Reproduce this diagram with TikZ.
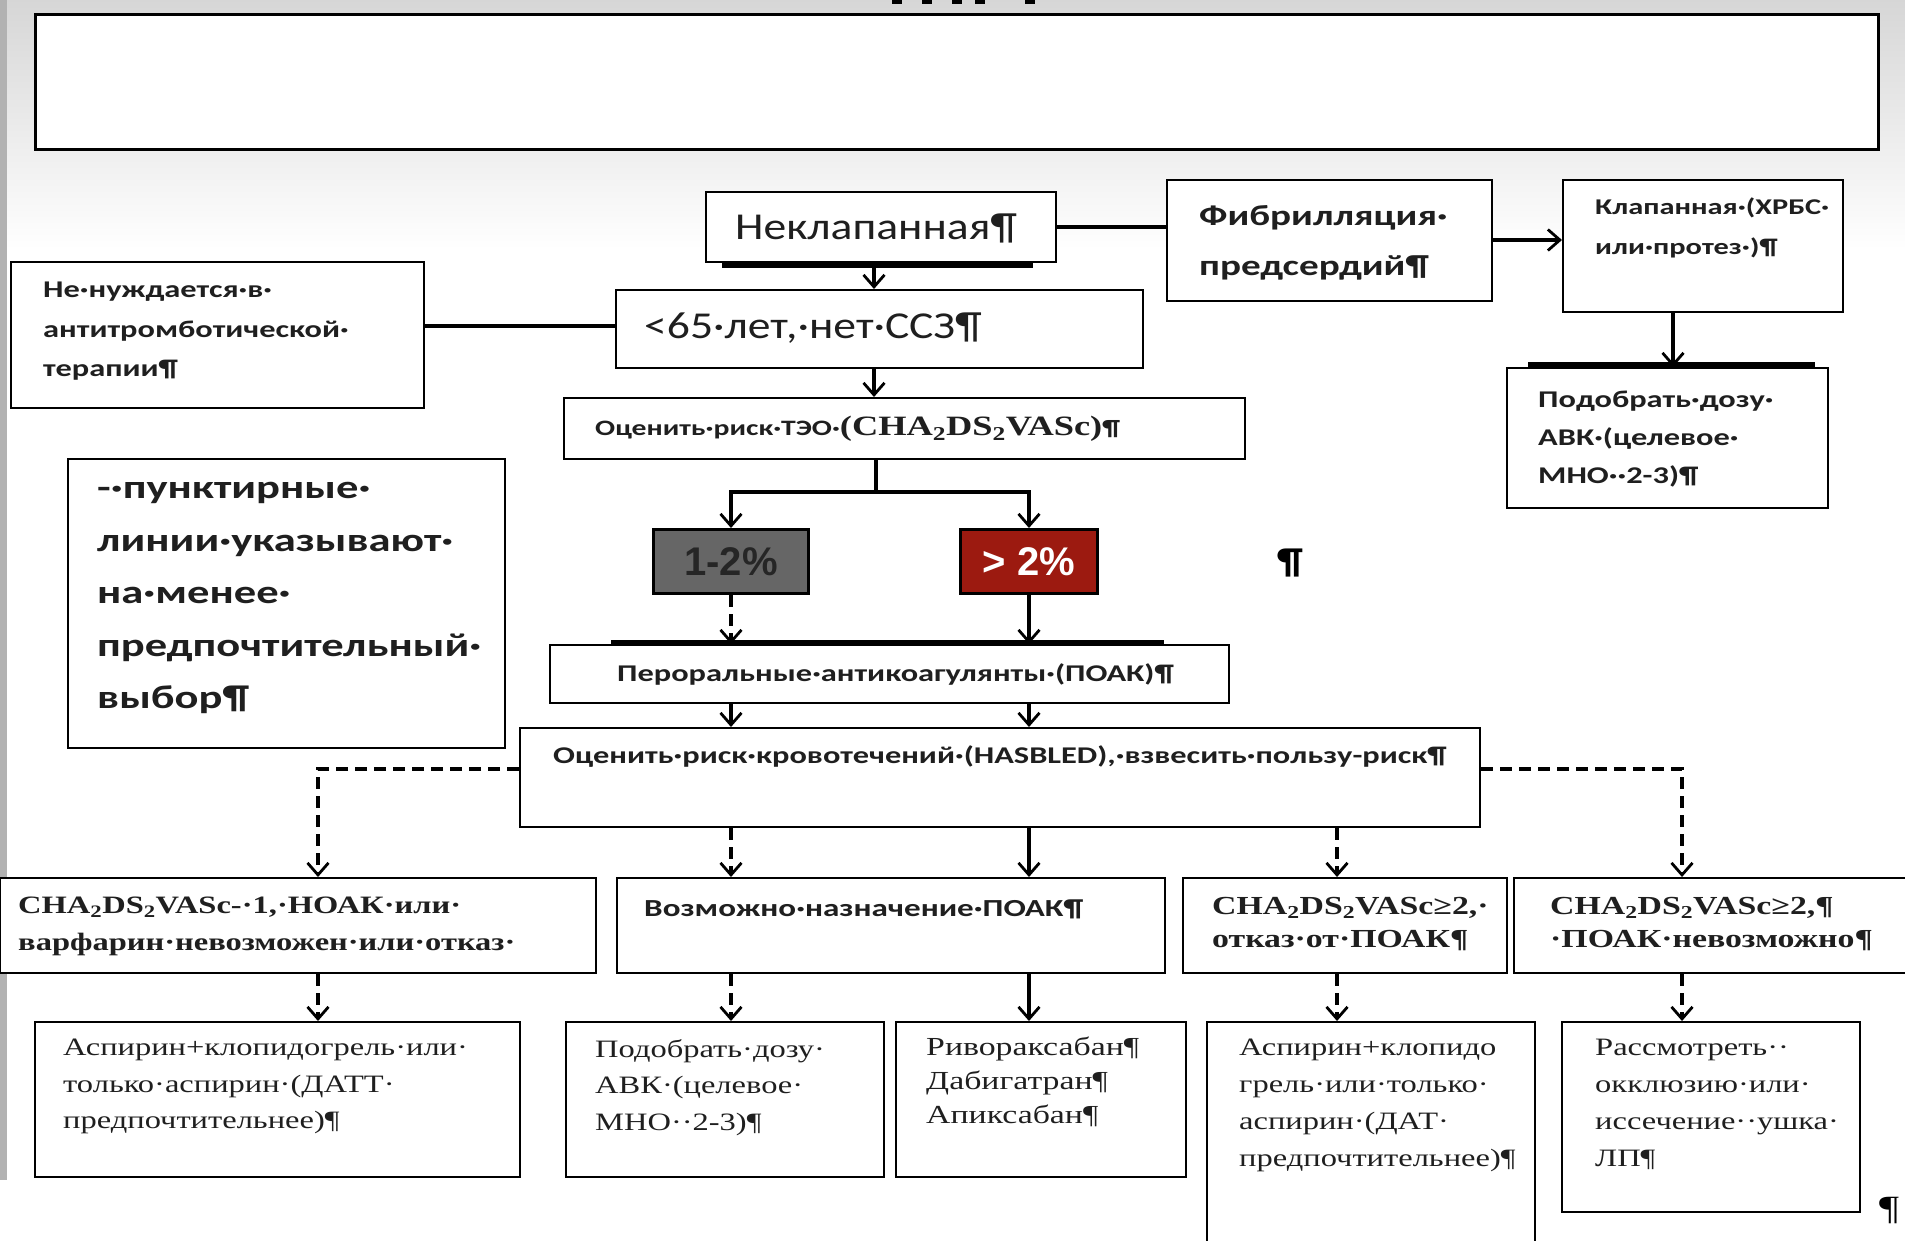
\documentclass[tikz,border=0pt]{standalone}
\usepackage{fontspec}
\newfontfamily\sfr[FakeStretch=1.2]{Carlito}
\newfontfamily\sfb[FakeStretch=1.35]{Carlito}
\newfontfamily\srb[FakeStretch=1.3]{Liberation Serif}
\newfontfamily\srr[FakeStretch=1.3]{Liberation Serif}
\newfontfamily\arl{Liberation Sans}
\usetikzlibrary{arrows.meta}
\newcommand{\myfs}[2]{\fontsize{#1}{#2}\selectfont}
\newcommand{\chads}{CHA\textsubscript{2}DS\textsubscript{2}VASc}
\definecolor{darkred}{HTML}{9C1A10}
\definecolor{midgray}{HTML}{666666}
\tikzset{
  box/.style={draw=black, line width=2.2pt, fill=white, inner sep=0pt, anchor=north west},
  txt/.style={inner sep=0pt, align=left, anchor=north west, text=black!88},
  ln/.style={line width=3.4pt},
  arr/.style={line width=3.4pt, -{Straight Barb[length=12pt,width=21pt,line width=2.8pt]}},
  dsh/.style={line width=4pt, dash pattern=on 12pt off 7pt},
  bar/.style={fill=black}
}
\begin{document}
\begin{tikzpicture}[x=1pt,y=-1pt]
\useasboundingbox (0,0) rectangle (1905,1240);
\clip (0,0) rectangle (1905,1240);
% background
\fill[white] (0,0) rectangle (1905,1240);
\shade[top color=black!16, bottom color=white] (0,0) rectangle (1905,250);
\fill[black!30] (0,0) rectangle (7,1180);
% cut-off title fragments
\fill[black] (892,0) rectangle (902,4);
\fill[black] (922,0) rectangle (932,4);
\fill[black] (952,0) rectangle (962,4);
\fill[black] (975,0) rectangle (985,4);
\fill[black] (1025,0) rectangle (1035,4);
% big empty box
\node[box, line width=3pt, minimum width=1843pt, minimum height=135pt] (big) at (34,13) {};

% boxes
\fill[bar] (722,259) rectangle (1033,268);
\node[box, minimum width=350pt, minimum height=70pt] (nekl) at (705,191) {};
\node[txt, anchor=base west, font={\sfr\myfs{38}{46}}] (neklt) at (735,239) {Неклапанная¶};

\node[box, minimum width=325pt, minimum height=121pt] (fib) at (1166,179) {};
\node[txt, font={\sfb\bfseries\myfs{29}{50}}] (fibt) at (1199,205) {Фибрилляция·\\предсердий¶};

\node[box, minimum width=280pt, minimum height=132pt] (klap) at (1562,179) {};
\node[txt, font={\sfb\bfseries\myfs{22.5}{40}}] (klapt) at (1595,198) {Клапанная·(ХРБС·\\или·протез·)¶};

\node[box, minimum width=413pt, minimum height=146pt] (nenuzh) at (10,261) {};
\node[txt, font={\sfb\bfseries\myfs{24}{39.5}}] (nenuzht) at (43,282) {Не·нуждается·в·\\антитромботической·\\терапии¶};

\node[box, minimum width=527pt, minimum height=78pt] (young) at (615,289) {};
\node[txt, anchor=west, font={\sfr\myfs{38}{44}}] (youngt) at (644,328) {<65·лет,·нет·ССЗ¶};

\fill[bar] (1528,362) rectangle (1815,369);
\node[box, minimum width=321pt, minimum height=140pt] (avk1) at (1506,367) {};
\node[txt, font={\sfb\bfseries\myfs{24}{38}}] (avk1t) at (1538,391) {Подобрать·дозу·\\АВК·(целевое·\\МНО··2-3)¶};

\node[box, minimum width=681pt, minimum height=61pt] (teo) at (563,397) {};
\node[txt, anchor=west] (teot) at (595,429) {{\sfb\bfseries\myfs{22}{26}Оценить·риск·ТЭО·}{\srb\bfseries\myfs{28}{30}(\chads)}{\sfb\bfseries\myfs{22}{26}¶}};

\node[box, minimum width=437pt, minimum height=289pt] (leg) at (67,458) {};
\node[txt, font={\sfb\bfseries\myfs{33}{52.5}}] (legt) at (97,482) {-·пунктирные·\\линии·указывают·\\на·менее·\\предпочтительный·\\выбор¶};

\node[box, fill=midgray, line width=3pt, minimum width=155pt, minimum height=64pt] (p12) at (652,528) {};
\node[inner sep=0pt, text=black!85, font={\arl\bfseries\myfs{40}{44}}] (p12t) at (p12.center) {1-2\%};
\node[box, fill=darkred, line width=3pt, minimum width=137pt, minimum height=64pt] (p2) at (959,528) {};
\node[inner sep=0pt, text=white, font={\arl\bfseries\myfs{40}{44}}] (p2t) at (p2.center) {> 2\%};

\node[inner sep=0pt, font={\sfr\bfseries\myfs{36}{40}}] (pil1) at (1290,563) {¶};

\fill[bar] (611,640) rectangle (1164,646);
\node[box, minimum width=679pt, minimum height=58pt] (poak) at (549,644) {};
\node[txt, anchor=west, font={\sfb\bfseries\myfs{24}{30}}] (poakt) at (617,674) {Пероральные·антикоагулянты·(ПОАК)¶};

\node[box, minimum width=960pt, minimum height=99pt] (has) at (519,727) {};
\node[txt, anchor=west, font={\sfb\bfseries\myfs{24}{30}}] (hast) at (553,757) {Оценить·риск·кровотечений·(HASBLED),·взвесить·пользу-риск¶};

\node[box, minimum width=596pt, minimum height=95pt] (r2a) at (-1,877) {};
\node[txt, font={\srb\bfseries\myfs{25}{37}}] (r2at) at (18,897) {\chads-·1,·НОАК·или·\\варфарин·невозможен·или·отказ·};

\node[box, minimum width=548pt, minimum height=95pt] (r2b) at (616,877) {};
\node[txt, anchor=west, font={\sfb\bfseries\myfs{24.5}{30}}] (r2bt) at (644,909) {Возможно·назначение·ПОАК¶};

\node[box, minimum width=324pt, minimum height=95pt] (r2c) at (1182,877) {};
\node[txt, font={\srb\bfseries\myfs{26}{33}}] (r2ct) at (1212,897) {\chads≥2,·\\отказ·от·ПОАК¶};

\node[box, minimum width=400pt, minimum height=95pt] (r2d) at (1513,877) {};
\node[txt, font={\srb\bfseries\myfs{26}{33}}] (r2dt) at (1550,897) {\chads≥2,¶\\·ПОАК·невозможно¶};

\node[box, minimum width=485pt, minimum height=155pt] (r3a) at (34,1021) {};
\node[txt, font={\srr\myfs{25}{36.5}}] (r3at) at (63,1039) {Аспирин+клопидогрель·или·\\только·аспирин·(ДАТТ·\\предпочтительнее)¶};

\node[box, minimum width=318pt, minimum height=155pt] (r3b) at (565,1021) {};
\node[txt, font={\srr\myfs{25}{36.5}}] (r3bt) at (595,1039) {Подобрать·дозу·\\АВК·(целевое·\\МНО··2-3)¶};

\node[box, minimum width=290pt, minimum height=155pt] (r3c) at (895,1021) {};
\node[txt, font={\srr\myfs{26}{34}}] (r3ct) at (926,1037) {Ривораксабан¶\\Дабигатран¶\\Апиксабан¶};

\node[box, minimum width=328pt, minimum height=240pt] (r3d) at (1206,1021) {};
\node[txt, font={\srr\myfs{25}{37}}] (r3dt) at (1239,1039) {Аспирин+клопидо\\грель·или·только·\\аспирин·(ДАТ·\\предпочтительнее)¶};

\node[box, minimum width=298pt, minimum height=190pt] (r3e) at (1561,1021) {};
\node[txt, font={\srr\myfs{25}{37}}] (r3et) at (1595,1039) {Рассмотреть··\\окклюзию·или·\\иссечение··ушка·\\ЛП¶};

\node[inner sep=0pt, font={\srr\myfs{34}{36}}] (pil2) at (1889,1210) {¶};

% connectors
\draw[ln] (nekl.east) -- (nekl.east -| fib.west);
\draw[arr] (fib.east |- 0,240) -- (klap.west |- 0,240);
\coordinate (xn) at (874,0);
\draw[arr] (xn |- nekl.south) -- (xn |- young.north);
\draw[ln] (young.west |- 0,326) -- (nenuzh.east |- 0,326);
\coordinate (xk) at (1673,0);
\draw[arr] (xk |- klap.south) -- (xk |- avk1.north);
\draw[arr] (xn |- young.south) -- (xn |- teo.north);
\coordinate (tsplit) at (876,492);
\draw[ln] (teo.south -| tsplit) -- (tsplit);
\draw[arr] (tsplit) -| (p12.north);
\draw[arr] (tsplit) -| (p2.north);
\draw[arr, dsh] (p12.south) -- (p12.south |- poak.north);
\draw[arr] (p2.south) -- (p2.south |- poak.north);
\draw[arr] (p12.south |- poak.south) -- (p12.south |- has.north);
\draw[arr] (p2.south |- poak.south) -- (p2.south |- has.north);
% from HASBLED
\coordinate (hl) at (318,769);
\coordinate (hr) at (1682,769);
\draw[arr, dsh] (hl -| has.west) -- (hl) -- (hl |- r2a.north);
\draw[arr, dsh] (p12.south |- has.south) -- (p12.south |- r2b.north);
\draw[arr] (p2.south |- has.south) -- (p2.south |- r2b.north);
\coordinate (xc) at (1337,0);
\draw[arr, dsh] (xc |- has.south) -- (xc |- r2c.north);
\draw[arr, dsh] (hr -| has.east) -- (hr) -- (hr |- r2d.north);
% row 2 to row 3
\draw[arr, dsh] (hl |- r2a.south) -- (hl |- r3a.north);
\draw[arr, dsh] (p12.south |- r2b.south) -- (p12.south |- r3b.north);
\draw[arr] (p2.south |- r2b.south) -- (p2.south |- r3c.north);
\draw[arr, dsh] (xc |- r2c.south) -- (xc |- r3d.north);
\draw[arr, dsh] (hr |- r2d.south) -- (hr |- r3e.north);
\end{tikzpicture}
\end{document}
